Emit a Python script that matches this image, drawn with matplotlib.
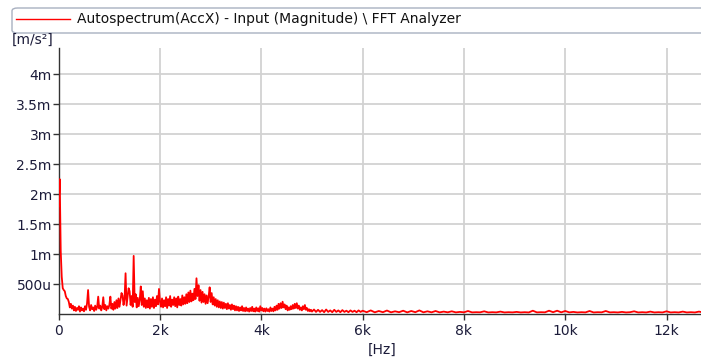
import numpy as np
import matplotlib
matplotlib.use("Agg")
import matplotlib.pyplot as plt
from matplotlib.patches import FancyBboxPatch
from matplotlib.lines import Line2D

# ---------------- data (amplitude in micro m/s^2) ----------------
# band 0 - 1000 Hz, 20 Hz bins
band_a_start, band_a_step = 0, 20
band_a = [1800, 2250, 1050, 620, 430, 400, 380, 300, 260, 250, 200, 110, 170, 90, 140, 60,
          120, 50, 100, 70, 130, 40, 110, 60, 90, 45, 130, 70, 180, 400, 120, 60, 150, 80,
          110, 50, 140, 70, 120, 290, 90, 140, 60, 120, 280, 80, 150, 60, 130, 90]
# band 1000 - 2000 Hz, 20 Hz bins
band_b_start, band_b_step = 1000, 20
band_b = [150, 290, 90, 170, 70, 200, 90, 230, 100, 260, 120, 240, 350, 310, 150, 250, 680,
          140, 280, 430, 380, 150, 300, 120, 970, 200, 330, 110, 270, 130, 240, 460, 150, 380,
          120, 260, 100, 230, 110, 270, 90, 250, 120, 280, 100, 240, 130, 300, 160, 418]
# band 2000 - 3000 Hz, 20 Hz bins
band_c_start, band_c_step = 2000, 20
band_c = [200, 120, 260, 110, 230, 130, 280, 100, 250, 140, 300, 120, 240, 150, 280, 130,
          260, 110, 290, 150, 250, 140, 310, 160, 280, 170, 330, 180, 360, 200, 390, 210,
          340, 230, 420, 250, 596, 300, 480, 220, 400, 190, 370, 200, 330, 170, 310, 180,
          290, 446]
# band 3000 - 4000 Hz, 20 Hz bins
band_d_start, band_d_step = 3000, 20
band_d = [200, 350, 160, 280, 140, 250, 120, 230, 110, 210, 100, 200, 90, 190, 100, 170,
          80, 180, 90, 150, 70, 160, 80, 140, 60, 130, 60, 120, 50, 110, 60, 130, 50, 100,
          45, 110, 50, 90, 40, 100, 50, 120, 45, 90, 40, 110, 50, 95, 40, 130]
# band 4000 - 5000 Hz, 20 Hz bins
band_e_start, band_e_step = 4000, 20
band_e = [60, 100, 45, 90, 40, 95, 50, 80, 40, 110, 50, 90, 45, 120, 60, 140, 70, 170, 90,
          180, 100, 205, 110, 160, 80, 140, 60, 110, 70, 130, 80, 150, 90, 170, 100, 180,
          90, 140, 70, 110, 60, 130, 80, 150, 70, 100, 50, 80, 45, 70]
# band 5000 - 6000 Hz, 40 Hz bins
band_f_start, band_f_step = 5000, 40
band_f = [40, 75, 35, 70, 35, 65, 30, 75, 35, 60, 30, 70, 35, 60, 30, 65, 35, 55, 30, 60,
          35, 55, 30, 60, 35]
# band 6000 - 12720 Hz, 80 Hz bins
band_g_start, band_g_step = 6000, 80
band_g = [55, 30, 60, 28, 50, 30, 58, 28, 45, 30, 55, 27, 50, 30, 60, 28, 45, 28, 50, 27,
          40, 28, 45, 27, 35, 28, 50, 27, 30, 28, 45, 26, 30, 27, 40, 26, 30, 27, 35, 26,
          30, 26, 55, 27, 30, 28, 55, 30, 55, 28, 50, 27, 35, 26, 30, 27, 50, 26, 30, 28,
          50, 27, 30, 26, 35, 26, 30, 45, 26, 30, 26, 40, 26, 30, 26, 45, 26, 30, 26, 40,
          26, 30, 26, 40, 26]

bands = [(band_a_start, band_a_step, band_a), (band_b_start, band_b_step, band_b),
         (band_c_start, band_c_step, band_c), (band_d_start, band_d_step, band_d),
         (band_e_start, band_e_step, band_e), (band_f_start, band_f_step, band_f),
         (band_g_start, band_g_step, band_g)]

y_ticks = [500, 1000, 1500, 2000, 2500, 3000, 3500, 4000]
y_tick_labels = ["500u", "1m", "1.5m", "2m", "2.5m", "3m", "3.5m", "4m"]
x_ticks = [0, 2000, 4000, 6000, 8000, 10000, 12000]
x_tick_labels = ["0", "2k", "4k", "6k", "8k", "10k", "12k"]
legend_label = "Autospectrum(AccX) - Input (Magnitude) \\ FFT Analyzer"
y_unit = "[m/s\u00b2]"
x_unit = "[Hz]"

freq = np.concatenate([s + st * np.arange(len(v)) for s, st, v in bands])
amp = np.concatenate([np.asarray(v, float) for _, _, v in bands])

# ---------------- figure ----------------
W, H = 701, 363
fig = plt.figure(figsize=(W / 100, H / 100), dpi=100)
plt.rcParams['font.family'] = ['DejaVu Sans']
txt_col = '#1c1c3a'
fs = 10

ax_l, ax_r, ax_t, ax_b = 58.7, 701, 48, 314
ax = fig.add_axes([ax_l / W, 1 - ax_b / H, (ax_r - ax_l) / W, (ax_b - ax_t) / H])
ax.plot(freq, amp, color='#ff0000', lw=1.3, zorder=3)
ax.set_xlim(0, 12680)
ax.set_ylim(0, 4440)
ax.set_yticks(y_ticks)
ax.set_yticklabels(y_tick_labels)
ax.set_xticks(x_ticks)
ax.set_xticklabels(x_tick_labels)
ax.grid(True, color='#d2d2d2', lw=1.3, zorder=0)
ax.tick_params(axis='both', labelsize=fs, colors='#333333', labelcolor=txt_col,
               length=4, width=1, direction='out')
ax.tick_params(axis='y', pad=1)
ax.tick_params(axis='x', pad=3)
for s in ['top', 'right']:
    ax.spines[s].set_visible(False)
for s in ['left', 'bottom']:
    ax.spines[s].set_color('#333333')
    ax.spines[s].set_linewidth(1.0)

fig.text(12 / W, 1 - 40 / H, y_unit, fontsize=fs, color=txt_col, va='center', ha='left')
fig.text(382 / W, 1 - 350 / H, x_unit, fontsize=fs, color=txt_col, va='center', ha='center')

# legend box
box = FancyBboxPatch((12 / W, 1 - 33 / H), (720 - 12) / W, 25 / H,
                     boxstyle="round,pad=0,rounding_size=0.008", transform=fig.transFigure,
                     facecolor='white', edgecolor='#a8b0c0', lw=1.0, zorder=1)
fig.patches.append(box)
fig.lines.append(Line2D([16 / W, 70 / W], [1 - 19 / H, 1 - 19 / H], transform=fig.transFigure,
                        color='#ff0000', lw=1.0))
fig.text(77 / W, 1 - 19 / H, legend_label, fontsize=10, color='#111111',
         va='center', ha='left')

fig.savefig('out.png', dpi=100)
